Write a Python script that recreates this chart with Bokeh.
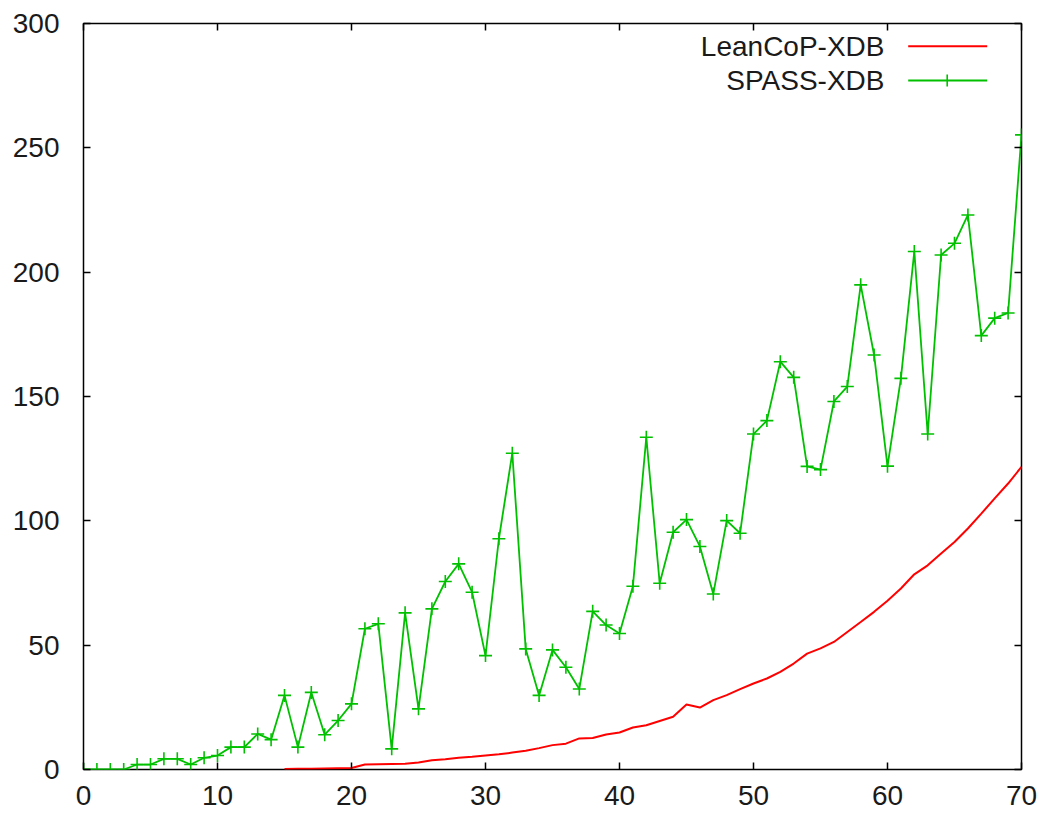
from bokeh.plotting import figure
from bokeh.models import Range1d, LinearAxis, FixedTicker, Label, Arrow, CustomJSTickFormatter
from bokeh.embed import file_html
from bokeh.resources import INLINE

# ---- data ----
series_names = ["LeanCoP-XDB", "SPASS-XDB"]

x_spass = list(range(0, 71))
spass = [0, 0, 0, 0, 2, 2, 4.3, 4.3, 2, 4.7,
         5.6, 9, 9, 14.3, 12, 29.8, 9, 31, 14, 19.7,
         26.4, 56.6, 58.6, 8.3, 63, 24.4, 64.6, 75.6, 82.7, 71.3,
         45.8, 92.8, 127.2, 48.5, 29.8, 48.1, 41.1, 32.4, 63.6, 58.1,
         54.7, 73.7, 133.6, 74.9, 95.4, 100.5, 89.7, 70.6, 100.1, 95,
         134.9, 140.3, 164, 157.7, 121.9, 120.6, 148, 154, 194.9, 166.7,
         122, 157.3, 208.3, 134.9, 206.9, 211.6, 223, 174.5, 181.5, 183.6,
         255.2]

x_lean = list(range(15, 71))
lean = [0.2, 0.3, 0.3, 0.4, 0.5, 0.6,
        2.0, 2.1, 2.2, 2.3, 2.8, 3.7, 4.1, 4.7, 5.1, 5.6,
        6.1, 6.8, 7.5, 8.6, 9.8, 10.4, 12.5, 12.7, 14.1, 14.9,
        16.9, 17.8, 19.5, 21.2, 26.1, 24.9, 27.9, 29.9, 32.3, 34.6,
        36.6, 39.3, 42.6, 46.6, 48.7, 51.3, 55.3, 59.3, 63.4, 67.9,
        72.8, 78.5, 82.1, 86.9, 91.5, 96.9, 102.9, 109, 115, 121.7]

x_ticks = [0, 10, 20, 30, 40, 50, 60, 70]
y_ticks = [0, 50, 100, 150, 200, 250, 300]

FONT = "Liberation Sans"
FS = "28px"
RED = "#ff0000"
GREEN = "#00c000"

p = figure(width=1046, height=818,
           x_range=Range1d(0, 70), y_range=Range1d(0, 300),
           output_backend="svg", toolbar_location=None,
           min_border_left=83, min_border_right=25,
           min_border_top=23, min_border_bottom=49,
           x_axis_location=None, y_axis_location=None)
p.grid.visible = False
p.outline_line_color = "black"
p.outline_line_width = 1.5
p.background_fill_color = "white"
p.border_fill_color = "white"


def style_axis(ax, labels=True, standoff=10):
    ax.axis_line_color = None
    ax.major_tick_in = 7
    ax.major_tick_out = 0
    ax.major_tick_line_color = "black"
    ax.major_tick_line_width = 1.5
    ax.minor_tick_line_color = None
    if labels:
        ax.major_label_text_font = FONT
        ax.major_label_text_font_size = FS
        ax.major_label_text_color = "#1a1a1a"
        ax.major_label_standoff = standoff
    else:
        ax.formatter = CustomJSTickFormatter(code="return ''")
        ax.major_label_text_font_size = "1px"
        ax.major_label_standoff = 0


xb = LinearAxis(ticker=FixedTicker(ticks=x_ticks))
style_axis(xb, True, 16)
p.add_layout(xb, "below")
yl = LinearAxis(ticker=FixedTicker(ticks=y_ticks))
style_axis(yl, True, 24)
p.add_layout(yl, "left")
xt = LinearAxis(ticker=FixedTicker(ticks=x_ticks))
style_axis(xt, False)
p.add_layout(xt, "above")
yr = LinearAxis(ticker=FixedTicker(ticks=y_ticks))
style_axis(yr, False)
p.add_layout(yr, "right")

# series
p.line(x_lean, lean, line_color=RED, line_width=2)
p.line(x_spass, spass, line_color=GREEN, line_width=1.8)
p.scatter(x_spass, spass, marker="cross", size=13, line_color=GREEN, line_width=1.6)

# legend (gnuplot style: text right-aligned, sample to its right)
leg_rows = [723.3, 689.0]
leg_colors = [RED, GREEN]
for name, yy, col in zip(series_names, leg_rows, leg_colors):
    p.add_layout(Label(x=801, y=yy, x_units="screen", y_units="screen", text=name,
                       text_align="right", text_baseline="middle",
                       text_font=FONT, text_font_size=FS, text_color="#1a1a1a"))
    p.add_layout(Arrow(start=None, end=None, x_start=824.7, y_start=yy, x_end=903.7, y_end=yy,
                       start_units="screen", end_units="screen",
                       line_color=col, line_width=2))
# cross marker on the SPASS sample
p.add_layout(Arrow(start=None, end=None, x_start=863.7, y_start=leg_rows[1] - 6,
                   x_end=863.7, y_end=leg_rows[1] + 6,
                   start_units="screen", end_units="screen",
                   line_color=GREEN, line_width=1.6))

open("out.html", "w").write(file_html(p, INLINE))
